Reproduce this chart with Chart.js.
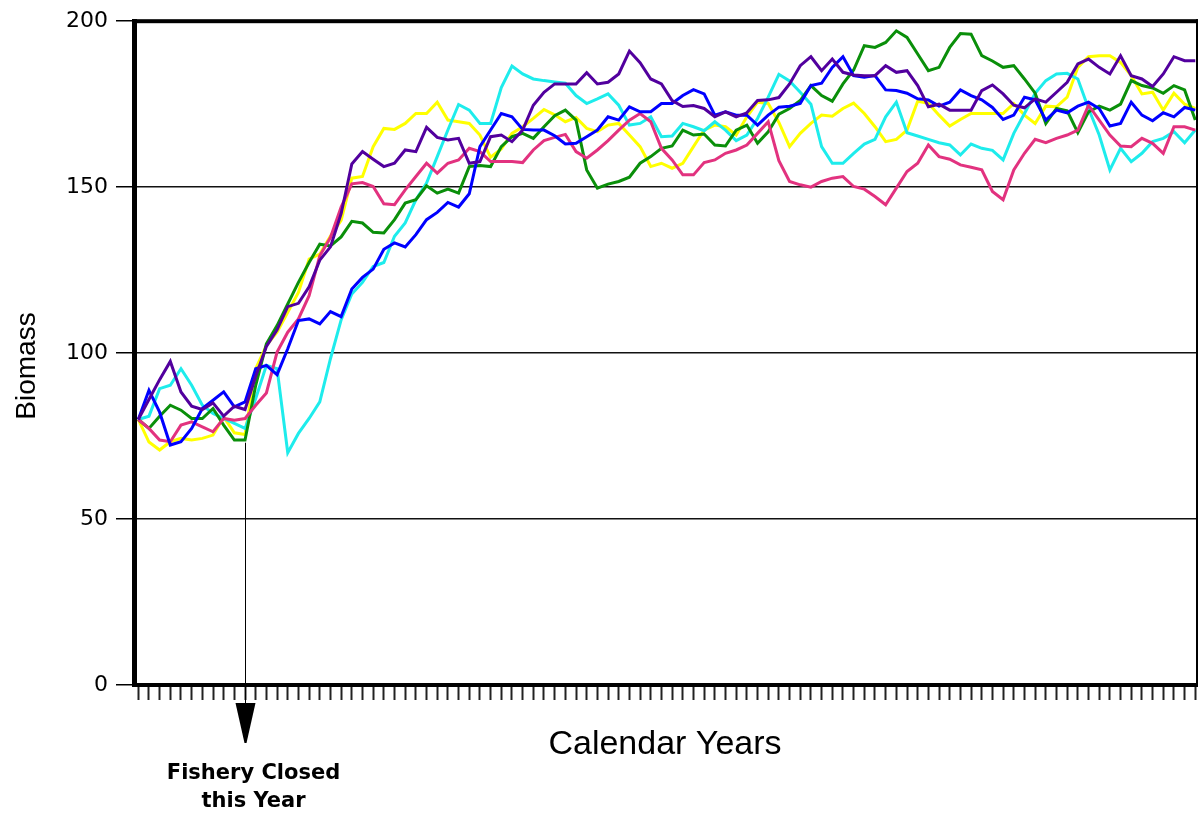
<!DOCTYPE html>
<html>
<head>
<meta charset="utf-8">
<title>Biomass by calendar year</title>
<script src="https://cdn.jsdelivr.net/npm/chart.js@4.4.1/dist/chart.umd.min.js"></script>
<style>
  html, body { margin: 0; padding: 0; background: #ffffff; }
  #wrap { width: 1199px; height: 815px; position: relative; }
</style>
</head>
<body>
<div id="wrap"><canvas id="chart" width="1199" height="815"></canvas></div>
<script>
// Simulation years (one point per year) and the year the fishery was closed
const years = [
  0,1,2,3,4,5,6,7,8,9,10,11,12,13,14,15,16,17,18,19,
  20,21,22,23,24,25,26,27,28,29,30,31,32,33,34,35,36,37,38,39,
  40,41,42,43,44,45,46,47,48,49,50,51,52,53,54,55,56,57,58,59,
  60,61,62,63,64,65,66,67,68,69,70,71,72,73,74,75,76,77,78,79,
  80,81,82,83,84,85,86,87,88,89,90,91,92,93,94,95,96,97,98,99
];
const closedYear = 10;
const yTicks = [0, 50, 100, 150, 200];

// Biomass trajectories, one per simulation run
const runYellow = [
  80,73.2,70.8,73.3,74.3,73.8,74.3,75.3,80.8,76,75.5,95.3,102.3,106.3,112.3,118.3,128.3,129.8,135.3,140,
  152.7,153.2,162.2,167.7,167.4,169.2,172.2,172.2,175.6,170.2,169.7,169.2,165.7,159,161.5,166.2,168.2,170.7,173.4,171.8,
  169.7,171,167.7,166.7,168.7,169.2,165.7,162.2,156.2,157.2,155.7,157.2,162.2,167.2,168.7,168.2,165.7,171.2,175.6,175.2,
  169.5,162.2,166.2,169.2,171.7,171.4,173.7,175.3,172.2,168.2,163.7,164.4,167.2,175.9,175.3,171.7,168.4,170.4,172.2,172.2,
  172.2,172.2,175.2,171.7,169.2,174.4,174.2,177.1,186.1,189.3,189.6,189.6,187.6,183.6,178.1,178.6,173.2,178.3,175,173.7
];
const runCyan = [
  80,81,89.3,90.3,95.3,90.3,84.3,81.8,80.3,78.8,77.3,86.3,96.3,95.3,70,75.8,80.3,85.3,98.3,110,
  117.8,121.3,126.1,127.3,135.2,139.2,146.2,151.2,159.2,167.2,174.9,173.2,169.2,169.2,180,186.5,184.1,182.6,182.1,181.7,
  181.3,177.6,175.2,176.6,178.1,174.7,168.7,169.2,171.2,165.2,165.4,169.2,168.2,167,169.7,167.2,164,165.7,170.7,177.1,
  184,182,178.6,175,162.2,157.2,157.2,160.2,163,164.4,171.2,175.6,166.4,165.4,164.4,163.4,162.7,159.7,163,161.7,
  161.1,158.2,166.2,172.2,178.3,182.1,184.1,184.3,182.6,173.7,165.7,155.2,161.7,157.7,160.2,163.7,164.7,166.7,163.4,167.2
];
const runGreen = [
  80,77.3,81,84.3,82.8,80.3,80.3,83.3,78.3,73.8,73.8,90.3,102.8,108.3,114.8,121.3,127.3,132.8,132.3,135,
  139.7,139.2,136.4,136.2,140.2,145.2,146.2,150.4,148.2,149.4,148.2,156.2,156.5,156.2,162.2,165.2,166.2,164.7,168.2,171.5,
  173.2,170.2,155.2,149.7,150.9,151.7,153,157.2,159.2,161.7,162.4,167.2,165.7,166,162.7,162.4,167.2,168.7,163.2,166.7,
  172,173.7,176.1,180.6,177.6,175.9,181.1,185.3,192.6,192.1,193.6,197.1,195.1,190.1,185.1,186.1,192.1,196.3,196.1,189.6,
  188,186.1,186.6,182.6,178.3,169.2,173.7,173,166.4,172.7,174.4,173.2,175,182.1,180.6,179.9,178.3,180.6,179.3,170.2
];
const runBlue = [
  80,88.8,82.2,72.3,73.3,77.3,83.3,85.8,88.3,83.8,85.3,95.3,96.3,93.5,101.3,109.8,110.3,108.8,112.5,111,
  119.3,122.8,125.3,131.3,133.2,132,135.7,140.2,142.4,145.4,144,148,162.2,167.2,172.2,171.2,167.4,167.2,167.2,165.5,
  163,163.2,165.2,167.2,171.2,170.2,174.2,172.7,172.7,175.2,175.2,177.6,179.4,178.1,171.7,172.7,171.7,171.7,168.7,171.7,
  174.1,174.4,175.2,180.6,181.3,186.1,189.3,183.6,183.1,183.6,179.3,179.1,178.3,176.6,176.3,174.4,175.6,179.3,177.6,176.3,
  174,170.4,171.7,177.1,176.3,170.2,173.2,172.4,174.4,175.6,173.7,168.4,169.2,175.6,171.7,170,172.4,171.2,174,173.2
];
const runPurple = [
  80,86,92,97.5,88.3,84,83,85,81,84,83,93,102,107,114,115,120,128,132,142,
  157,160.7,158.4,156.2,157.2,161.2,160.7,168,165,164.2,164.7,157.2,157.7,165.2,165.7,163.7,167.2,174.7,178.6,181.1,
  181.1,181.1,184.5,181.1,181.6,184.1,191,187.5,182.6,181.1,176.1,174.3,174.6,173.7,171.2,172.7,171.2,172.4,176.1,176.3,
  177,181.1,186.6,189.3,185.1,188.6,184.6,183.8,183.6,183.6,186.6,184.6,185.1,180.6,174.2,175,173.2,173.2,173.2,179.1,
  180.8,178.1,174.7,173.9,176.6,175.6,178.6,181.6,187.1,188.6,186.1,184.1,189.6,183.6,182.6,180.3,184.1,189.3,188.1,188.1
];
const runPink = [
  80,77.3,73.8,73.3,78.3,79.3,77.8,76.3,80.3,79.8,80.3,84.3,88,100.3,106.3,110.3,117.3,129.3,134.8,144,
  151,151.4,150.2,145,144.7,149.2,153.2,157.2,154.2,157.2,158.2,161.7,160.7,157.7,157.7,157.7,157.4,161.2,164,165,
  165.9,160.7,158.7,161.2,164,167.2,170.2,172.2,169.7,161.7,158.2,153.7,153.7,157.4,158.2,160.2,161.2,162.7,166.2,169.7,
  158,151.7,150.7,150,151.7,152.7,153.2,150.2,149.4,147.2,144.7,149.7,154.7,157.2,162.7,159.2,158.4,156.7,156,155.2,
  148.7,146.2,155.2,160.2,164.4,163.4,164.7,165.7,167.2,174.7,170.2,165.7,162.4,162.2,164.7,163.2,160.2,168.2,168.2,167.2
];

// Frame, arrow and captions drawn over the plot
const framePlugin = {
  id: 'frame',
  afterDraw(chart) {
    const { ctx, chartArea: a, scales: { x, y } } = chart;
    ctx.save();
    ctx.fillStyle = '#000';
    // top and right edges of the plot box
    ctx.fillRect(a.left - 2, a.top - 2, a.right - a.left + 3, 4);
    ctx.fillRect(a.right - 1, a.top - 2, 2, a.bottom - a.top + 3);

    // marker for the year the fishery was closed
    const px = Math.round(x.getPixelForValue(closedYear)) + 0.5;
    ctx.strokeStyle = '#000';
    ctx.lineWidth = 1;
    ctx.beginPath();
    ctx.moveTo(px, y.getPixelForValue(73));
    ctx.lineTo(px, 706);
    ctx.stroke();
    ctx.beginPath();
    ctx.moveTo(px - 10, 703);
    ctx.lineTo(px + 10, 703);
    ctx.lineTo(px + 1, 743);
    ctx.lineTo(px - 1, 743);
    ctx.closePath();
    ctx.fill();

    ctx.textAlign = 'center';
    ctx.textBaseline = 'alphabetic';
    ctx.font = 'bold 21px "DejaVu Sans", Verdana, sans-serif';
    ctx.fillText('Fishery Closed', px + 8, 779);
    ctx.fillText('this Year', px + 8, 807);

    // axis titles
    ctx.textBaseline = 'middle';
    ctx.font = '34px "Liberation Sans", Arial, sans-serif';
    ctx.fillText('Calendar Years', 665, 745);
    ctx.font = '28px "Liberation Sans", Arial, sans-serif';
    ctx.translate(27, 366);
    ctx.rotate(-Math.PI / 2);
    ctx.fillText('Biomass', 0, 0);
    ctx.restore();
  }
};

const line = (data, color) => ({
  data, borderColor: color, backgroundColor: color,
  borderWidth: 3, pointRadius: 0, tension: 0, fill: false
});

new Chart(document.getElementById('chart'), {
  type: 'line',
  data: {
    labels: years,
    datasets: [
      line(runPurple, '#52009e'),
      line(runBlue, '#0000ff'),
      line(runPink, '#e2327f'),
      line(runGreen, '#0a8f0a'),
      line(runCyan, '#1eecec'),
      line(runYellow, '#ffff00')
    ]
  },
  options: {
    responsive: false,
    animation: false,
    devicePixelRatio: 1,
    layout: { padding: { top: 17, right: 2, left: 0, bottom: 0 } },
    plugins: { legend: { display: false }, tooltip: { enabled: false } },
    scales: {
      x: {
        type: 'linear',
        min: -0.4,
        max: 99.16,
        afterBuildTicks: s => { s.ticks = years.map(v => ({ value: v })); },
        afterFit: s => { s.height = 130; },
        ticks: { display: false },
        grid: { drawOnChartArea: false, drawTicks: true, tickLength: 15, tickWidth: 2, tickColor: '#222' },
        border: { display: true, width: 4, color: '#000' }
      },
      y: {
        min: 0,
        max: 200,
        afterBuildTicks: s => { s.ticks = yTicks.map(v => ({ value: v })); },
        afterFit: s => { s.width = 134; },
        ticks: { font: { family: '"DejaVu Sans", Verdana, sans-serif', size: 22 }, color: '#000', padding: 8 },
        grid: { color: '#111', lineWidth: 1.5, tickLength: 18, tickColor: '#000', tickWidth: 1.5 },
        border: { display: true, width: 5, color: '#000' }
      }
    }
  },
  plugins: [framePlugin]
});
</script>
</body>
</html>
